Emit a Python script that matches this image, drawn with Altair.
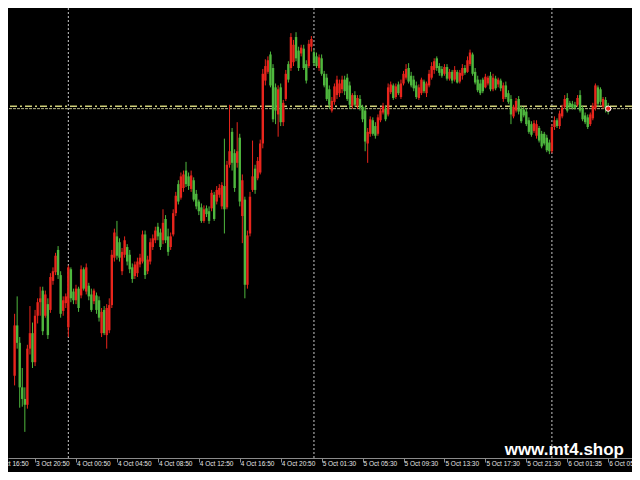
import altair as alt
import pandas as pd

# ---- candle data (M15 bars), prices in chart points ----
open_ = [120,172,154,108,96,90,148,164,134,182, 196,208,182,194,188,218,227,250,224,187,
         195,170,230,207,198,210,203,230,207,213, 204,197,203,198,164,188,162,167,193,242,
         264,258,228,245,253,245,232,223,226,235, 238,266,228,238,253,260,274,268,260,282,
         264,253,266,288,318,304,314,332,326,313, 322,308,300,294,280,293,290,293,307,300,
         307,295,316,294,338,372,350,340,366,285, 302,214,267,312,334,324,330,360,425,434,
         452,438,418,390,418,382,406,442,438,444, 470,456,453,458,442,440,460,454,450,438,
         448,432,428,416,394,403,410,412,416,426, 428,420,399,410,399,406,398,394,360,370,
         384,378,370,384,392,396,390,413,420,408, 421,408,422,428,438,430,426,420,407,412,
         424,412,420,428,436,448,440,437,432,439, 427,434,426,434,424,430,438,434,442,452,
         434,426,422,426,418,422,430,416,427,421, 425,406,420,412,406,388,394,406,396,395,
         393,384,380,373,368,376,370,370,366,361, 352,377,384,378,388,398,407,402,401,400,
         400,410,396,389,387,380,386,396,418,416, 398,405,399]
close = [172,154,108,96,90,148,164,134,182,196, 200,166,204,162,222,228,244,224,184,198,
         202,232,200,198,210,190,230,210,232,202, 188,208,188,180,186,164,190,193,245,268,
         244,242,248,260,238,230,220,235,238,242, 266,224,240,258,262,270,264,253,278,260,
         248,264,288,306,300,326,328,318,316,327, 302,295,290,280,292,287,280,309,282,312,
         314,317,292,338,352,340,314,352,300,322, 214,265,305,326,312,342,360,432,440,446,
         420,385,394,416,382,402,432,426,470,462, 448,438,459,438,425,463,468,443,440,449,
         432,420,406,400,404,419,426,422,426,414, 406,400,410,400,407,397,385,362,372,385,
         370,368,387,394,399,385,418,421,407,419, 412,422,432,437,424,420,417,408,418,426,
         414,422,432,440,445,438,433,430,439,427, 434,425,436,423,433,438,433,446,454,432,
         423,415,412,414,429,428,416,428,417,426, 417,420,408,403,390,398,404,393,383,389,
         380,372,369,381,380,363,357,360,353,352, 377,384,378,391,397,406,394,398,397,397,
         407,394,385,382,377,390,399,420,401,403, 406,396,396]
high = [184,202,160,128,108,152,192,175,188,200, 212,212,208,200,226,232,247,254,228,202,
        205,234,232,210,214,212,234,232,236,216, 210,210,206,202,190,192,194,200,250,272,
        280,262,252,264,256,250,236,238,242,246, 270,270,244,262,266,274,278,272,292,286,
        272,268,292,310,322,330,332,341,330,332, 325,312,302,298,296,296,295,312,310,316,
        318,320,365,342,400,376,354,382,370,328, 305,270,310,363,338,346,364,437,447,450,
        455,442,422,420,422,405,436,445,474,467, 475,460,462,462,446,467,471,457,454,452,
        452,435,432,420,408,422,430,426,430,430, 432,424,412,414,410,410,400,398,376,388,
        387,382,390,397,402,399,422,424,422,422, 424,426,435,442,443,434,430,424,421,428,
        426,424,436,444,448,450,443,440,442,442, 437,436,440,436,436,442,441,450,457,454,
        438,430,426,428,432,430,434,432,430,428, 427,423,424,415,410,400,407,409,399,398,
        396,387,383,384,384,378,373,372,369,364, 380,388,386,394,400,410,412,404,404,403,
        410,415,399,392,390,392,402,422,420,418, 408,408,402]
low = [110,148,87,88,62,86,142,128,130,174, 182,162,180,158,185,214,224,220,180,182,
       190,160,196,194,194,186,200,208,204,198, 186,194,184,176,160,162,148,164,190,238,
       240,238,224,242,234,226,216,220,222,232, 236,220,225,235,250,257,260,250,256,257,
       244,250,264,285,297,302,310,315,312,310, 300,292,286,278,278,284,277,290,280,297,
       304,292,267,292,335,332,310,335,295,257, 200,210,264,310,308,322,328,355,420,432,
       418,382,380,367,378,378,404,423,435,440, 445,435,450,436,422,438,455,440,438,435,
       430,418,404,396,392,400,406,408,412,410, 404,396,396,398,396,394,382,352,340,367,
       368,365,368,382,390,383,388,411,405,406, 410,406,420,426,422,418,414,406,405,410,
       412,408,418,426,432,435,430,428,430,425, 425,422,424,422,422,426,431,433,440,430,
       421,413,410,412,417,420,414,414,415,418, 414,403,406,401,380,386,392,390,381,387,
       378,370,367,371,365,361,355,358,351,349, 350,374,376,375,386,396,392,396,395,395,
       398,392,383,380,375,378,384,394,398,400, 396,392,390]

tick_idx = [-8, 8, 24, 40, 56, 72, 88, 104, 120, 136, 152, 168, 184, 200, 216, 232]
tick_labels = ["3 Oct 16:50", "3 Oct 20:50", "4 Oct 00:50", "4 Oct 04:50", "4 Oct 08:50",
               "4 Oct 12:50", "4 Oct 16:50", "4 Oct 20:50", "5 Oct 01:30", "5 Oct 05:30",
               "5 Oct 09:30", "5 Oct 13:30", "5 Oct 17:30", "5 Oct 21:30", "6 Oct 01:35",
               "6 Oct 05:35"]
day_separators = [21, 117, 210]
bid_level = [396]
ask_level = [398.5]
watermark = ["www.mt4.shop"]

RED = "#e8251c"
GREEN = "#4fb83e"

df = pd.DataFrame({"i": list(range(len(close))), "open": open_, "close": close,
                   "high": high, "low": low})
df["dir"] = ["up" if c >= o else "down" for o, c in zip(open_, close)]

xscale = alt.Scale(domain=[-0.625, 239.35], nice=False, zero=False)
yscale = alt.Scale(domain=[35, 500], nice=False, zero=False)
color = alt.Color("dir:N", scale=alt.Scale(domain=["up", "down"], range=[RED, GREEN]), legend=None)

xaxis = alt.Axis(values=tick_idx[1:], labels=False, title=None, grid=False,
                 domainColor="#8a8a8a", tickColor="#8a8a8a", tickSize=4, domainWidth=1)


def X(field):
    return alt.X(field, scale=xscale, axis=xaxis)


def Y(field):
    return alt.Y(field, scale=yscale, axis=None)


base = alt.Chart(df)

wicks = base.mark_rule(strokeWidth=1).encode(
    x=X("i:Q"), y=Y("low:Q"), y2="high:Q", color=color,
)
bodies = base.mark_bar(size=2.4).encode(
    x=X("i:Q"), y=Y("open:Q"), y2="close:Q", color=color,
)

seps = alt.Chart(pd.DataFrame({"i": day_separators})).mark_rule(
    color="#c8c8c8", strokeDash=[2, 2], strokeWidth=1
).encode(x=X("i:Q"))

bid = alt.Chart(pd.DataFrame({"p": bid_level})).mark_rule(
    color="#b9b98a", strokeDash=[3, 1], strokeWidth=1
).encode(y=Y("p:Q"))

ask = alt.Chart(pd.DataFrame({"p": ask_level})).mark_rule(
    color="#cfcf78", strokeDash=[7, 3, 2, 3], strokeWidth=1.5
).encode(y=Y("p:Q"))

last = alt.Chart(df.tail(1)).mark_point(
    shape="circle", filled=True, fill=RED, stroke="white", strokeWidth=1, size=28, opacity=1
).encode(x=X("i:Q"), y=Y("close:Q"))

labels = alt.Chart(pd.DataFrame({"i": tick_idx, "label": tick_labels})).mark_text(
    align="left", baseline="middle", fontSize=6.5, font="Liberation Sans",
    color="#e4e4e4", dx=1
).encode(x=X("i:Q"), y=alt.value(456), text="label:N")

wm = alt.Chart(pd.DataFrame({"t": watermark})).mark_text(
    align="right", baseline="alphabetic", fontSize=17, font="Liberation Sans",
    fontWeight="bold", color="white"
).encode(x=alt.value(616), y=alt.value(447), text="t:N")

chart = alt.layer(seps, ask, bid, wicks, bodies, last, labels, wm).properties(
    width=624, height=450,
    autosize=alt.AutoSizeParams(type="none"),
    padding={"left": 0, "top": 0, "right": 0, "bottom": 14},
    background="black",
).configure_view(stroke=None)

chart.save("out.html", embed_options={"renderer": "svg", "actions": False})
